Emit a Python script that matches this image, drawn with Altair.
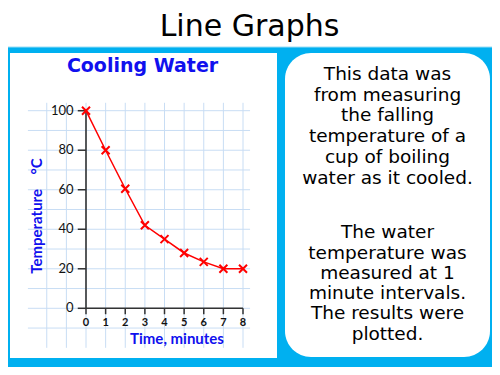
import altair as alt
import pandas as pd

# ---- data ----
minutes = [0, 1, 2, 3, 4, 5, 6, 7, 8]
temperature = [100, 80, 60.5, 42, 35, 28, 23.5, 20, 20]
x_ticks = [0, 1, 2, 3, 4, 5, 6, 7, 8]
y_ticks = [0, 20, 40, 60, 80, 100]
grid_x = [-2, -1, 0, 1, 2, 3, 4, 5, 6, 7, 8]
grid_y = [-10, 0, 10, 20, 30, 40, 50, 60, 70, 80, 90, 100]

slide_title = "Line Graphs"
chart_title = "Cooling Water"
x_title = "Time, minutes"
y_title = "Temperature\u00a0\u00a0\u00a0\u00a0°C"
para1 = ["This data was", "from measuring", "the falling", "temperature of a",
         "cup of boiling", "water as it cooled."]
para2 = ["The water", "temperature was", "measured at 1", "minute intervals.",
         "The results were", "plotted."]

CYAN = "#00B0F0"
BLUE = "#1010EE"
GRID = "#C8DDF4"
AXIS = "#333333"
RED = "#FF0000"

xs = alt.Scale(domain=[0, 8], range=[78, 235], nice=False, zero=False)
ys = alt.Scale(domain=[0, 100], range=[300.3, 102.7], nice=False, zero=False)

one = pd.DataFrame({"k": [0]})
line_df = pd.DataFrame({"t": minutes, "temp": temperature})
xt_df = pd.DataFrame({"v": x_ticks})
yt_df = pd.DataFrame({"v": y_ticks})
gx_df = pd.DataFrame({"v": grid_x})
gy_df = pd.DataFrame({"v": grid_y})


def box(x, x2, y, y2, r=0, stroke=None):
    kw = dict(color="white", cornerRadius=r)
    if stroke:
        kw.update(stroke=stroke, strokeWidth=1)
    return alt.Chart(one).mark_rect(**kw).encode(
        x=alt.value(x), x2=alt.value(x2), y=alt.value(y), y2=alt.value(y2))


title_box = box(-2, 486, -4, 39, stroke="#9ADDF5")
chart_box = box(2, 269, 45, 350)
note_box = box(277, 482, 45, 349, r=26)

vgrid = alt.Chart(gx_df).mark_rule(color=GRID, strokeWidth=1).encode(
    x=alt.X("v:Q", scale=xs, axis=None),
    y=alt.YDatum(-20, scale=ys, axis=None),
    y2=alt.datum(104),
)
hgrid = alt.Chart(gy_df).mark_rule(color=GRID, strokeWidth=1).encode(
    y=alt.Y("v:Q", scale=ys, axis=None),
    x=alt.XDatum(-2.96, scale=xs, axis=None),
    x2=alt.datum(8.36),
)

x_axis = alt.Chart(one).mark_rule(color=AXIS, strokeWidth=1.6).encode(
    x=alt.XDatum(0, scale=xs, axis=None), x2=alt.datum(8),
    y=alt.YDatum(0, scale=ys, axis=None),
)
y_axis = alt.Chart(one).mark_rule(color=AXIS, strokeWidth=1.6).encode(
    x=alt.XDatum(0, scale=xs, axis=None),
    y=alt.YDatum(0, scale=ys, axis=None), y2=alt.datum(100),
)
x_tickmarks = alt.Chart(xt_df).mark_rule(color=AXIS, strokeWidth=1.5).encode(
    x=alt.X("v:Q", scale=xs, axis=None),
    y=alt.YDatum(0, scale=ys, axis=None), y2=alt.datum(-3),
)
y_tickmarks = alt.Chart(yt_df).mark_rule(color=AXIS, strokeWidth=1.5).encode(
    y=alt.Y("v:Q", scale=ys, axis=None),
    x=alt.XDatum(0, scale=xs, axis=None), x2=alt.datum(-0.42),
)
x_labels = alt.Chart(xt_df).mark_text(
    font="Lato", fontSize=11, fontWeight="bold", color="#111111", baseline="middle"
).encode(
    x=alt.X("v:Q", scale=xs, axis=None),
    y=alt.YDatum(-7.4, scale=ys, axis=None),
    text=alt.Text("v:Q"),
)
y_labels = alt.Chart(yt_df).mark_text(
    font="Lato", fontSize=13, color="#111111", align="right", baseline="middle"
).encode(
    y=alt.Y("v:Q", scale=ys, axis=None),
    x=alt.XDatum(-0.63, scale=xs, axis=None),
    text=alt.Text("v:Q"),
)

line = alt.Chart(line_df).mark_line(color=RED, strokeWidth=1.5).encode(
    x=alt.X("t:Q", scale=xs, axis=None),
    y=alt.Y("temp:Q", scale=ys, axis=None),
)
points = alt.Chart(line_df).mark_point(
    shape="M-1,-1L1,1M-1,1L1,-1", size=64, color=RED, strokeWidth=2, filled=False, opacity=1
).encode(
    x=alt.X("t:Q", scale=xs, axis=None),
    y=alt.Y("temp:Q", scale=ys, axis=None),
)


def label(txt, x, y, **kw):
    return alt.Chart(one).mark_text(**kw).encode(
        x=alt.value(x), y=alt.value(y), text=alt.value(txt))


t_slide = label(slide_title, 241.5, 28, font="DejaVu Sans", fontSize=30,
                color="black", align="center", baseline="alphabetic")
t_chart = label(chart_title, 134.5, 64, font="DejaVu Sans", fontSize=19,
                fontWeight="bold", color=BLUE, align="center", baseline="alphabetic")
t_x = label(x_title, 169, 331, font="Lato", fontSize=15, fontWeight="bold",
            color=BLUE, align="center", baseline="middle")
t_y = label(y_title, 29, 208, font="Lato", fontSize=15, fontWeight="bold",
            color=BLUE, align="center", baseline="middle", angle=270)

p1 = alt.Chart(one).mark_text(
    font="DejaVu Sans", fontSize=18.5, color="black", align="center",
    baseline="alphabetic", lineHeight=20.7, lineBreak="\n"
).encode(x=alt.value(379.5), y=alt.value(72), text=alt.value("\n".join(para1)))
p2 = alt.Chart(one).mark_text(
    font="DejaVu Sans", fontSize=18.5, color="black", align="center",
    baseline="alphabetic", lineHeight=20.3, lineBreak="\n"
).encode(x=alt.value(379.5), y=alt.value(230.3), text=alt.value("\n".join(para2)))

chart = alt.layer(
    title_box, chart_box, note_box,
    vgrid, hgrid,
    x_axis, y_axis, x_tickmarks, y_tickmarks, x_labels, y_labels,
    line, points,
    t_slide, t_chart, t_x, t_y, p1, p2,
).properties(
    width=484, height=359, background=CYAN,
    autosize=alt.AutoSizeParams(type="none"), padding=0,
).configure_view(stroke=None)

chart.save("out.html", embed_options={"renderer": "svg", "actions": False})
